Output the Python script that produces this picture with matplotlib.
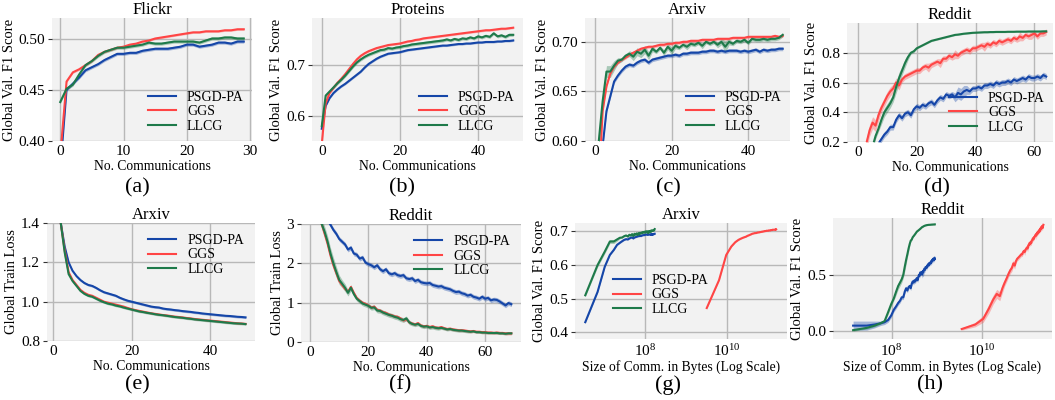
import numpy as np
import matplotlib
matplotlib.use("Agg")
import matplotlib.pyplot as plt
from matplotlib.ticker import NullLocator

plt.rcParams['font.family'] = ['Liberation Serif', 'DejaVu Serif']
plt.rcParams['mathtext.fontset'] = 'stix'

# ---------------- data ----------------
methods = ["PSGD-PA", "GGS", "LLCG"]
colors = ["#1546a8", "#ff4545", "#1e7a4a"]

# (a) Flickr val F1
flickr_psgd = [0.372, 0.450, 0.456, 0.462, 0.469, 0.472, 0.475, 0.479, 0.482, 0.485,
               0.485, 0.486, 0.486, 0.488, 0.489, 0.490, 0.490, 0.490, 0.491, 0.492,
               0.494, 0.494, 0.492, 0.493, 0.494, 0.496, 0.496, 0.495, 0.497, 0.497]
flickr_ggs = [0.385, 0.458, 0.467, 0.470, 0.474, 0.478, 0.484, 0.487, 0.489, 0.491,
              0.492, 0.494, 0.495, 0.497, 0.498, 0.500, 0.501, 0.502, 0.503, 0.504,
              0.505, 0.506, 0.506, 0.507, 0.507, 0.507, 0.508, 0.508, 0.509, 0.509]
flickr_llcg = [0.438, 0.451, 0.455, 0.465, 0.474, 0.478, 0.483, 0.487, 0.489, 0.491,
               0.491, 0.492, 0.493, 0.494, 0.496, 0.495, 0.495, 0.496, 0.497, 0.497,
               0.497, 0.497, 0.496, 0.498, 0.500, 0.500, 0.501, 0.501, 0.500, 0.500]
flickr_sd = [0.0015, 0.001, 0.0015]

# (b) Proteins val F1
prot_psgd = [0.575, 0.620, 0.635, 0.645, 0.652, 0.658, 0.663, 0.669, 0.675, 0.681,
             0.687, 0.695, 0.702, 0.707, 0.712, 0.716, 0.719, 0.722, 0.723, 0.724,
             0.725, 0.727, 0.729, 0.730, 0.731, 0.732, 0.733, 0.734, 0.735, 0.736,
             0.737, 0.738, 0.738, 0.739, 0.740, 0.741, 0.741, 0.742, 0.742, 0.743,
             0.744, 0.744, 0.745, 0.745, 0.745, 0.746, 0.746, 0.747, 0.747, 0.748]
prot_ggs = [0.545, 0.625, 0.645, 0.655, 0.665, 0.673, 0.682, 0.692, 0.702, 0.711,
            0.718, 0.723, 0.727, 0.730, 0.733, 0.735, 0.737, 0.739, 0.740, 0.741,
            0.742, 0.744, 0.746, 0.747, 0.749, 0.750, 0.752, 0.753, 0.754, 0.755,
            0.756, 0.757, 0.758, 0.759, 0.760, 0.761, 0.762, 0.763, 0.764, 0.765,
            0.766, 0.767, 0.768, 0.768, 0.769, 0.770, 0.771, 0.771, 0.772, 0.773]
prot_llcg = [0.580, 0.640, 0.648, 0.656, 0.664, 0.671, 0.679, 0.688, 0.697, 0.705,
             0.711, 0.716, 0.720, 0.723, 0.726, 0.729, 0.730, 0.733, 0.732, 0.734,
             0.735, 0.737, 0.738, 0.740, 0.741, 0.742, 0.743, 0.744, 0.745, 0.746,
             0.747, 0.748, 0.750, 0.748, 0.751, 0.749, 0.752, 0.751, 0.754, 0.752,
             0.756, 0.754, 0.757, 0.755, 0.762, 0.756, 0.758, 0.755, 0.759, 0.759]
prot_sd = [0.002, 0.002, 0.003]

# (c),(g) Arxiv val F1
arx_psgd = [0.430, 0.520, 0.595, 0.630, 0.645, 0.660, 0.666, 0.671, 0.675, 0.677,
            0.676, 0.679, 0.681, 0.682, 0.679, 0.682, 0.683, 0.684, 0.685, 0.686,
            0.686, 0.687, 0.686, 0.688, 0.688, 0.689, 0.689, 0.689, 0.690, 0.690,
            0.691, 0.691, 0.690, 0.691, 0.690, 0.691, 0.691, 0.691, 0.690, 0.691,
            0.690, 0.691, 0.692, 0.690, 0.692, 0.691, 0.692, 0.692, 0.693, 0.693]
arx_ggs = [0.472, 0.555, 0.630, 0.655, 0.668, 0.675, 0.679, 0.682, 0.684, 0.687,
           0.689, 0.691, 0.693, 0.694, 0.695, 0.695, 0.696, 0.697, 0.697, 0.698,
           0.698, 0.699, 0.699, 0.700, 0.700, 0.701, 0.701, 0.701, 0.702, 0.702,
           0.702, 0.702, 0.703, 0.703, 0.703, 0.703, 0.704, 0.704, 0.704, 0.704,
           0.705, 0.705, 0.705, 0.705, 0.705, 0.705, 0.705, 0.706, 0.705, 0.706]
arx_llcg = [0.510, 0.600, 0.640, 0.670, 0.670, 0.676, 0.681, 0.682, 0.686, 0.688,
            0.685, 0.690, 0.688, 0.692, 0.686, 0.693, 0.690, 0.694, 0.689, 0.695,
            0.691, 0.696, 0.694, 0.697, 0.695, 0.698, 0.697, 0.699, 0.696, 0.700,
            0.698, 0.700, 0.697, 0.700, 0.695, 0.700, 0.698, 0.701, 0.700, 0.702,
            0.699, 0.703, 0.702, 0.702, 0.703, 0.702, 0.703, 0.703, 0.704, 0.707]
arx_psgd_sd = 0.002
arx_ggs_sd = 0.0015
arx_llcg_sd = [0.004, 0.006, 0.006, 0.006, 0.006, 0.005, 0.003, 0.002, 0.002, 0.003,
               0.004, 0.004, 0.004, 0.004, 0.004, 0.003, 0.002, 0.002, 0.003, 0.003,
               0.004, 0.003, 0.002, 0.002, 0.003, 0.002, 0.002, 0.002, 0.003, 0.002,
               0.002, 0.002, 0.003, 0.003, 0.006, 0.003, 0.002, 0.002, 0.002, 0.002,
               0.002, 0.002, 0.002, 0.002, 0.002, 0.002, 0.002, 0.002, 0.002, 0.002]
arx_bytes_per_comm = [3.4e6, 3.2e9, 3.4e6]

# (d),(h) Reddit val F1
red_psgd = [0.05, 0.05, 0.06, 0.07, 0.08, 0.10, 0.14, 0.19, 0.22, 0.25,
            0.27, 0.30, 0.30, 0.35, 0.38, 0.36, 0.39, 0.40, 0.38, 0.42,
            0.44, 0.43, 0.45, 0.44, 0.46, 0.47, 0.45, 0.48, 0.50, 0.49,
            0.52, 0.51, 0.52, 0.50, 0.53, 0.52, 0.54, 0.55, 0.54, 0.56,
            0.56, 0.57, 0.56, 0.58, 0.58, 0.59, 0.58, 0.60, 0.59, 0.60,
            0.60, 0.61, 0.60, 0.62, 0.61, 0.62, 0.63, 0.62, 0.64, 0.63,
            0.63, 0.64, 0.63, 0.65, 0.64]
red_ggs = [0.02, 0.06, 0.11, 0.20, 0.28, 0.33, 0.31, 0.38, 0.43, 0.47,
           0.51, 0.54, 0.56, 0.60, 0.58, 0.62, 0.64, 0.65, 0.66, 0.67,
           0.68, 0.68, 0.70, 0.71, 0.70, 0.72, 0.73, 0.74, 0.73, 0.76,
           0.76, 0.78, 0.77, 0.79, 0.78, 0.80, 0.81, 0.82, 0.81, 0.83,
           0.83, 0.84, 0.85, 0.84, 0.86, 0.85, 0.87, 0.86, 0.88, 0.87,
           0.88, 0.89, 0.88, 0.90, 0.89, 0.91, 0.90, 0.92, 0.91, 0.92,
           0.93, 0.91, 0.93, 0.93, 0.94]
red_llcg = [0.01, 0.03, 0.05, 0.07, 0.09, 0.17, 0.24, 0.29, 0.35, 0.40,
            0.43, 0.46, 0.50, 0.57, 0.63, 0.68, 0.73, 0.77, 0.80, 0.81,
            0.83, 0.84, 0.85, 0.86, 0.87, 0.88, 0.885, 0.89, 0.895, 0.90,
            0.905, 0.91, 0.915, 0.92, 0.922, 0.925, 0.928, 0.93, 0.932, 0.934,
            0.935, 0.936, 0.937, 0.938, 0.938, 0.939, 0.939, 0.94, 0.94, 0.94,
            0.94, 0.941, 0.941, 0.941, 0.942, 0.942, 0.942, 0.942, 0.943, 0.943,
            0.943, 0.943, 0.943, 0.944, 0.944]
red_psgd_sd = [0.04, 0.04, 0.03, 0.02, 0.02, 0.02, 0.02, 0.02, 0.02, 0.02,
               0.02, 0.02, 0.02, 0.02, 0.02, 0.02, 0.02, 0.02, 0.02, 0.02,
               0.02, 0.02, 0.02, 0.02, 0.02, 0.02, 0.02, 0.02, 0.02, 0.02,
               0.02, 0.02, 0.02, 0.03, 0.04, 0.04, 0.04, 0.03, 0.02, 0.02,
               0.02, 0.02, 0.02, 0.02, 0.02, 0.02, 0.02, 0.02, 0.02, 0.02,
               0.02, 0.02, 0.02, 0.02, 0.02, 0.02, 0.02, 0.02, 0.02, 0.02,
               0.02, 0.02, 0.02, 0.02, 0.02]
red_ggs_sd = [0.01, 0.02, 0.03, 0.04, 0.04, 0.04, 0.04, 0.04, 0.03, 0.03,
              0.03, 0.03, 0.03, 0.03, 0.03, 0.02, 0.02, 0.02, 0.02, 0.02,
              0.02, 0.02, 0.02, 0.02, 0.03, 0.02, 0.02, 0.02, 0.03, 0.02,
              0.02, 0.02, 0.02, 0.03, 0.02, 0.02, 0.02, 0.02, 0.02, 0.02,
              0.02, 0.02, 0.02, 0.03, 0.02, 0.02, 0.02, 0.02, 0.02, 0.02,
              0.02, 0.02, 0.02, 0.02, 0.02, 0.03, 0.02, 0.02, 0.02, 0.03,
              0.02, 0.02, 0.02, 0.02, 0.02]
red_llcg_sd = [0.01, 0.01, 0.01, 0.01, 0.01, 0.02, 0.02, 0.02, 0.03, 0.03,
               0.03, 0.03, 0.03, 0.04, 0.04, 0.03, 0.03, 0.02, 0.01, 0.01,
               0.005, 0.005, 0.005, 0.005, 0.005, 0.005, 0.005, 0.005, 0.005, 0.005,
               0.005, 0.005, 0.005, 0.005, 0.005, 0.005, 0.005, 0.005, 0.005, 0.005,
               0.005, 0.005, 0.005, 0.005, 0.005, 0.005, 0.005, 0.005, 0.005, 0.005,
               0.005, 0.005, 0.005, 0.005, 0.005, 0.005, 0.005, 0.005, 0.005, 0.005,
               0.005, 0.005, 0.005, 0.005, 0.005]
red_bytes_per_comm = [1.4e7, 3.6e9, 1.4e7]

# (e) Arxiv train loss
al_psgd = [2.00, 1.70, 1.40, 1.28, 1.20, 1.157, 1.13, 1.11, 1.095, 1.085,
           1.08, 1.07, 1.058, 1.048, 1.042, 1.036, 1.03, 1.02, 1.012, 1.005,
           1.0, 0.995, 0.99, 0.985, 0.98, 0.975, 0.972, 0.97, 0.965, 0.962,
           0.96, 0.957, 0.955, 0.952, 0.95, 0.948, 0.945, 0.943, 0.94, 0.938,
           0.936, 0.934, 0.932, 0.93, 0.928, 0.927, 0.925, 0.923, 0.922, 0.92]
al_ggs = [1.90, 1.60, 1.40, 1.26, 1.15, 1.11, 1.085, 1.06, 1.045, 1.035,
          1.03, 1.02, 1.01, 1.0, 0.995, 0.99, 0.985, 0.98, 0.975, 0.968,
          0.962, 0.957, 0.953, 0.949, 0.945, 0.941, 0.938, 0.935, 0.932, 0.93,
          0.927, 0.924, 0.922, 0.92, 0.917, 0.915, 0.912, 0.91, 0.908, 0.906,
          0.904, 0.902, 0.9, 0.898, 0.896, 0.894, 0.892, 0.89, 0.889, 0.887]
al_llcg = [1.90, 1.60, 1.40, 1.25, 1.14, 1.105, 1.08, 1.055, 1.04, 1.03,
           1.025, 1.015, 1.005, 0.997, 0.99, 0.986, 0.98, 0.976, 0.97, 0.965,
           0.96, 0.955, 0.95, 0.947, 0.943, 0.94, 0.936, 0.933, 0.931, 0.928,
           0.925, 0.922, 0.92, 0.918, 0.915, 0.913, 0.91, 0.908, 0.906, 0.904,
           0.902, 0.9, 0.898, 0.896, 0.894, 0.892, 0.89, 0.889, 0.888, 0.886]
al_sd = [0.006, 0.004, 0.006]

# (f) Reddit train loss
rl_psgd = [4.5, 4.2, 3.9, 3.6, 3.4, 3.25, 3.1, 2.98, 2.85, 2.75,
           2.62, 2.55, 2.48, 2.35, 2.40, 2.25, 2.22, 2.12, 2.15, 2.02,
           1.98, 1.95, 1.90, 1.95, 1.85, 1.80, 1.85, 1.75, 1.72, 1.75,
           1.70, 1.68, 1.70, 1.62, 1.60, 1.62, 1.55, 1.58, 1.52, 1.50,
           1.49, 1.50, 1.45, 1.43, 1.41, 1.42, 1.38, 1.36, 1.34, 1.30,
           1.27, 1.28, 1.24, 1.22, 1.18, 1.20, 1.15, 1.13, 1.10, 1.15,
           1.10, 1.12, 1.06, 1.08, 1.07, 1.03, 0.98, 0.93, 0.99, 0.96]
rl_ggs = [4.2, 3.8, 3.4, 3.2, 3.0, 2.75, 2.50, 2.20, 1.95, 1.75,
          1.55, 1.45, 1.35, 1.28, 1.40, 1.25, 1.12, 1.05, 1.00, 0.97,
          0.93, 0.88, 0.90, 0.82, 0.80, 0.76, 0.74, 0.70, 0.68, 0.65,
          0.64, 0.60, 0.55, 0.58, 0.50, 0.47, 0.45, 0.48, 0.42, 0.40,
          0.41, 0.38, 0.40, 0.37, 0.36, 0.38, 0.35, 0.33, 0.34, 0.32,
          0.31, 0.30, 0.30, 0.29, 0.28, 0.27, 0.28, 0.26, 0.26, 0.25,
          0.25, 0.24, 0.24, 0.23, 0.24, 0.23, 0.23, 0.22, 0.22, 0.22]
rl_llcg = [4.2, 3.8, 3.5, 3.2, 3.0, 2.80, 2.55, 2.25, 2.0, 1.78,
           1.58, 1.48, 1.38, 1.25, 1.38, 1.22, 1.10, 1.04, 0.98, 0.95,
           0.92, 0.87, 0.88, 0.80, 0.79, 0.75, 0.72, 0.69, 0.67, 0.64,
           0.62, 0.58, 0.56, 0.60, 0.50, 0.46, 0.44, 0.46, 0.41, 0.39,
           0.40, 0.37, 0.38, 0.36, 0.35, 0.36, 0.34, 0.32, 0.33, 0.31,
           0.30, 0.29, 0.29, 0.28, 0.27, 0.26, 0.27, 0.25, 0.25, 0.24,
           0.24, 0.23, 0.23, 0.23, 0.23, 0.22, 0.22, 0.21, 0.22, 0.22]
rl_psgd_sd = 0.06
rl_ggs_sd = 0.04
rl_llcg_sd = [0.06, 0.06, 0.08, 0.10, 0.12, 0.14, 0.15, 0.15, 0.15, 0.14,
              0.12, 0.10, 0.10, 0.08, 0.08, 0.06, 0.06, 0.06, 0.06, 0.06,
              0.06, 0.06, 0.06, 0.06, 0.06, 0.06, 0.06, 0.06, 0.06, 0.06,
              0.06, 0.06, 0.06, 0.06, 0.06, 0.05, 0.05, 0.05, 0.05, 0.05,
              0.05, 0.05, 0.05, 0.05, 0.05, 0.04, 0.04, 0.04, 0.04, 0.04,
              0.04, 0.04, 0.04, 0.04, 0.04, 0.03, 0.03, 0.03, 0.03, 0.03,
              0.03, 0.03, 0.03, 0.03, 0.03, 0.03, 0.03, 0.03, 0.03, 0.03]

# ---------------- figure ----------------
W, H = 1055, 400
fig = plt.figure(figsize=(W / 100, H / 100), dpi=100)

TITLE_FS = 12
XLABEL_FS = 9.8
YLABEL_FS = 10.5
TICK_FS = 11
LEGEND_FS = 10


def add_ax(left, right, top, bottom):
    return fig.add_axes([left / W, (H - bottom) / H, (right - left) / W, (bottom - top) / H])


def style(ax):
    ax.set_facecolor('#f2f2f2')
    for s in ax.spines.values():
        s.set_visible(False)
    ax.grid(True, color='#b8b8b8', lw=1.0)
    ax.set_axisbelow(True)
    ax.tick_params(axis='x', length=0, pad=3, labelsize=TICK_FS)
    ax.tick_params(axis='y', length=3, width=0.8, color='#333333', pad=2, labelsize=TICK_FS)


def draw(ax, xs, ys, sds):
    for x, y, sd, c, lab in zip(xs, ys, sds, colors, methods):
        x = np.asarray(x, dtype=float)
        y = np.asarray(y, dtype=float)
        sd = np.broadcast_to(np.asarray(sd, dtype=float), y.shape)
        ax.fill_between(x, y - sd, y + sd, color=c, alpha=0.35, lw=0)
        ax.plot(x, y, color=c, lw=1.5, label=lab)


def labels(ax, title, xlabel, ylabel):
    ax.set_title(title, fontsize=TITLE_FS, pad=2)
    ax.set_xlabel(xlabel, fontsize=XLABEL_FS, labelpad=1)
    ax.set_ylabel(ylabel, fontsize=YLABEL_FS, labelpad=2)


def legend(ax, **kw):
    ax.legend(frameon=False, fontsize=LEGEND_FS, labelspacing=0.1, handlelength=2.0,
              handletextpad=0.8, **kw)


def idx(seq):
    return np.arange(len(seq))


# (a)
ax = add_ax(52, 252, 18, 141)
style(ax)
draw(ax, [idx(flickr_psgd)] * 3, [flickr_psgd, flickr_ggs, flickr_llcg], flickr_sd)
ax.set_xlim(-1.3, 30.3); ax.set_ylim(0.40, 0.52)
ax.set_xticks([0, 10, 20, 30]); ax.set_yticks([0.40, 0.45, 0.50])
ax.set_yticklabels(['0.40', '0.45', '0.50'])
labels(ax, 'Flickr', 'No. Communications', 'Global Val. F1 Score')
legend(ax, loc='lower right', borderaxespad=0.2)

# (b)
ax = add_ax(312, 523, 18, 141)
style(ax)
draw(ax, [idx(prot_psgd)] * 3, [prot_psgd, prot_ggs, prot_llcg], prot_sd)
ax.set_xlim(-2.5, 51.5); ax.set_ylim(0.551, 0.792)
ax.set_xticks([0, 20, 40]); ax.set_yticks([0.6, 0.7])
labels(ax, 'Proteins', 'No. Communications', 'Global Val. F1 Score')
legend(ax, loc='lower right', borderaxespad=0.2)

# (c)
ax = add_ax(585, 790, 18, 141)
style(ax)
draw(ax, [idx(arx_psgd)] * 3, [arx_psgd, arx_ggs, arx_llcg], [arx_psgd_sd, arx_ggs_sd, arx_llcg_sd])
ax.set_xlim(-2.6, 50.9); ax.set_ylim(0.60, 0.724)
ax.set_xticks([0, 20, 40]); ax.set_yticks([0.60, 0.65, 0.70])
ax.set_yticklabels(['0.60', '0.65', '0.70'])
labels(ax, 'Arxiv', 'No. Communications', 'Global Val. F1 Score')
legend(ax, loc='lower right', borderaxespad=0.2)

# (d)
ax = add_ax(847, 1053, 23, 142)
style(ax)
draw(ax, [idx(red_psgd)] * 3, [red_psgd, red_ggs, red_llcg], [red_psgd_sd, red_ggs_sd, red_llcg_sd])
ax.set_xlim(-3.7, 66.3); ax.set_ylim(0.2, 1.0)
ax.set_xticks([0, 20, 40, 60]); ax.set_yticks([0.2, 0.4, 0.6, 0.8])
labels(ax, 'Reddit', 'No. Communications', 'Global Val. F1 Score')
legend(ax, loc='lower right', borderaxespad=0.2)

# (e)
ax = add_ax(47, 255, 223, 341)
style(ax)
draw(ax, [idx(al_psgd)] * 3, [al_psgd, al_ggs, al_llcg], al_sd)
ax.set_xlim(-1.5, 51.4); ax.set_ylim(0.8, 1.4)
ax.set_xticks([0, 20, 40]); ax.set_yticks([0.8, 1.0, 1.2, 1.4])
labels(ax, 'Arxiv', 'No. Communications', 'Global Train Loss')
legend(ax, loc='upper right', borderaxespad=0.4)

# (f)
ax = add_ax(301, 521, 224, 342)
style(ax)
draw(ax, [idx(rl_psgd)] * 3, [rl_psgd, rl_ggs, rl_llcg], [rl_psgd_sd, rl_ggs_sd, rl_llcg_sd])
ax.set_xlim(-3.1, 72.3); ax.set_ylim(0, 3)
ax.set_xticks([0, 20, 40, 60]); ax.set_yticks([0, 1, 2, 3])
labels(ax, 'Reddit', 'No. Communications', 'Global Train Loss')
legend(ax, loc='upper right', borderaxespad=0.4)

# (g)
ax = add_ax(575, 787, 223, 339)
style(ax)
arx_series = [arx_psgd, arx_ggs, arx_llcg]
draw(ax, [b * (idx(s) + 1) for b, s in zip(arx_bytes_per_comm, arx_series)], arx_series,
     [arx_psgd_sd, arx_ggs_sd, arx_llcg_sd])
ax.set_xscale('log')
ax.set_xlim(10 ** 6.28, 10 ** 11.47); ax.set_ylim(0.38, 0.725)
ax.set_xticks([1e8, 1e10]); ax.xaxis.set_minor_locator(NullLocator())
ax.set_yticks([0.4, 0.5, 0.6, 0.7])
labels(ax, 'Arxiv', 'Size of Comm. in Bytes (Log Scale)', 'Global Val. F1 Score')
legend(ax, loc='center left', bbox_to_anchor=(0.12, 0.38))

# (h)
ax = add_ax(833, 1052, 218, 339)
style(ax)
red_series = [red_psgd, red_ggs, red_llcg]
draw(ax, [b * (idx(s) + 1) for b, s in zip(red_bytes_per_comm, red_series)], red_series,
     [red_psgd_sd, red_ggs_sd, red_llcg_sd])
ax.set_xscale('log')
ax.set_xlim(10 ** 6.70, 10 ** 11.56); ax.set_ylim(-0.068, 1.0)
ax.set_xticks([1e8, 1e10]); ax.xaxis.set_minor_locator(NullLocator())
ax.set_yticks([0.0, 0.5])
labels(ax, 'Reddit', 'Size of Comm. in Bytes (Log Scale)', 'Global Val. F1 Score')

# panel letters
for lab, x, y in [('(a)', 137, 188), ('(b)', 402, 188), ('(c)', 668, 188), ('(d)', 937, 188),
                  ('(e)', 137, 385), ('(f)', 400, 385), ('(g)', 668, 385), ('(h)', 930, 385)]:
    fig.text(x / W, (H - y) / H, lab, fontsize=16, ha='center', va='center')

fig.savefig('out.png', dpi=100, facecolor='white')
